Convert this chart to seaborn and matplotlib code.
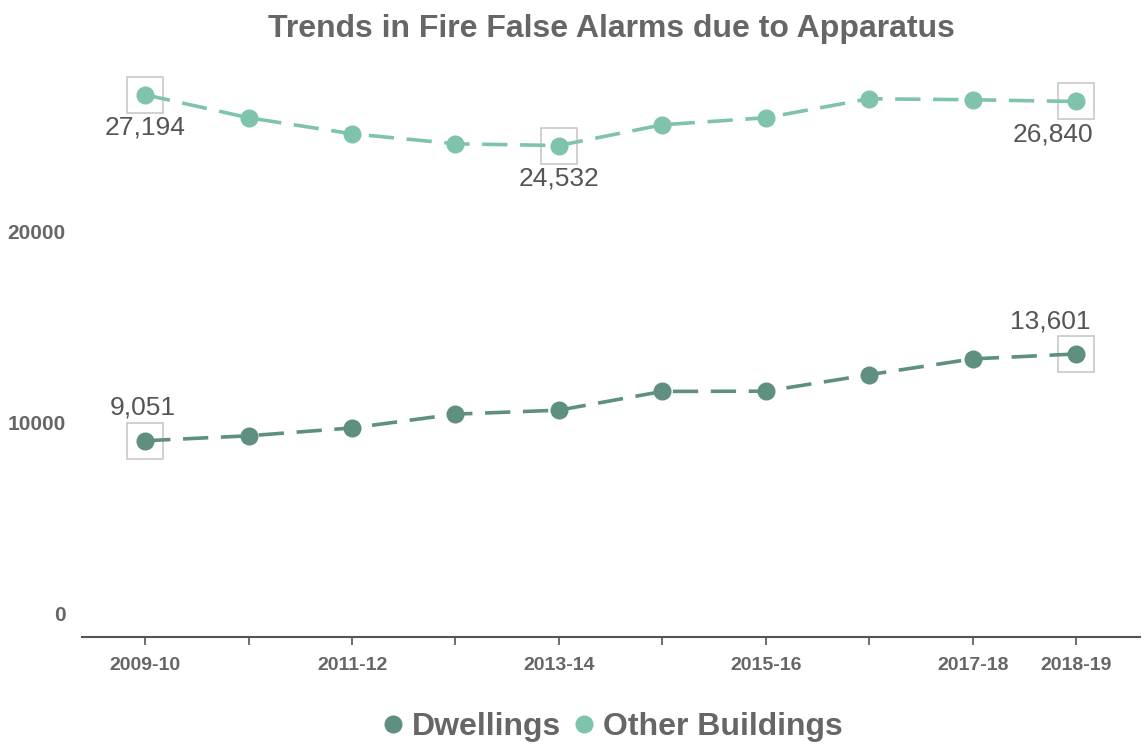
import pandas as pd
import matplotlib.pyplot as plt
import seaborn as sns

# data
years = ['2009-10', '2010-11', '2011-12', '2012-13', '2013-14',
         '2014-15', '2015-16', '2016-17', '2017-18', '2018-19']
dwellings = [9051, 9310, 9723, 10447, 10654, 11637, 11650, 12516, 13343, 13601]
other_buildings = [27194, 25987, 25146, 24621, 24532, 25619, 25987, 26984, 26931, 26840]
shown_labels = ['2009-10', '2011-12', '2013-14', '2015-16', '2017-18', '2018-19']

colors = {'Dwellings': '#5e8f80', 'Other Buildings': '#7fc3ad'}
text_grey = '#666666'

sns.set_style('white')
plt.rcParams['font.family'] = ['Liberation Sans', 'DejaVu Sans']

df = pd.DataFrame({'Year': years, 'Dwellings': dwellings, 'Other Buildings': other_buildings})
df['x'] = range(len(years))
long = df.melt(id_vars=['Year', 'x'], var_name='Type', value_name='Alarms')

fig = plt.figure(figsize=(11.46, 7.47), dpi=100)
ax = fig.add_axes([0.0716, 0.147, 0.9234, 0.759])

sns.lineplot(data=long, x='x', y='Alarms', hue='Type', palette=colors, ax=ax,
             marker='o', markersize=13, markeredgewidth=0, linewidth=2.6,
             dashes=False, legend=False)
for line in ax.get_lines():
    line.set_dashes([7, 3.5])

ax.set_xlim(-0.61, 9.62)
ax.set_ylim(-1250, 28480)

# highlighted points: boxes and value labels
highlights = [
    ('Other Buildings', 0, 'below', 0),
    ('Other Buildings', 4, 'below', 0),
    ('Other Buildings', 9, 'below', -0.22),
    ('Dwellings', 0, 'above', -0.02),
    ('Dwellings', 9, 'above', -0.25),
]
for series, i, where, dx in highlights:
    v = df[series][i]
    ax.plot(i, v, marker='s', markersize=26, markerfacecolor='none',
            markeredgecolor='#c8c8c8', markeredgewidth=1.2, zorder=1)
    dy = -15 if where == 'below' else 15
    va = 'top' if where == 'below' else 'bottom'
    ax.annotate(f'{v:,}', (i + dx, v), xytext=(0, dy), textcoords='offset points',
                ha='center', va=va, fontsize=19, color='#555555')

ax.set_xticks(df['x'])
ax.set_xticklabels([y if y in shown_labels else '' for y in years],
                   fontsize=14, fontweight='bold', color=text_grey)
ax.tick_params(axis='x', bottom=True, length=6, width=1.2, color='#555555', pad=8,
               direction='out')
ax.set_yticks([0, 10000, 20000])
ax.set_yticklabels(['0', '10000', '20000'], fontsize=15, fontweight='bold', color=text_grey)
ax.tick_params(axis='y', length=0, pad=12)

sns.despine(ax=ax, left=True)
ax.spines['bottom'].set_color('#555555')
ax.spines['bottom'].set_linewidth(1.5)
ax.set_xlabel('')
ax.set_ylabel('')

ax.set_title('Trends in Fire False Alarms due to Apparatus', fontsize=23,
             fontweight='bold', color=text_grey, pad=24)

handles = [plt.Line2D([], [], marker='o', linestyle='', markersize=13,
                      markerfacecolor=colors[k], markeredgewidth=0) for k in colors]
fig.legend(handles, list(colors), loc='center', bbox_to_anchor=(0.535, 0.027), ncol=2,
           frameon=False, handlelength=0.6, handletextpad=0.3, columnspacing=0.4,
           prop={'weight': 'bold', 'size': 23})
for t in fig.legends[0].get_texts():
    t.set_color(text_grey)

plt.savefig('out.png', dpi=100)
plt.close()
